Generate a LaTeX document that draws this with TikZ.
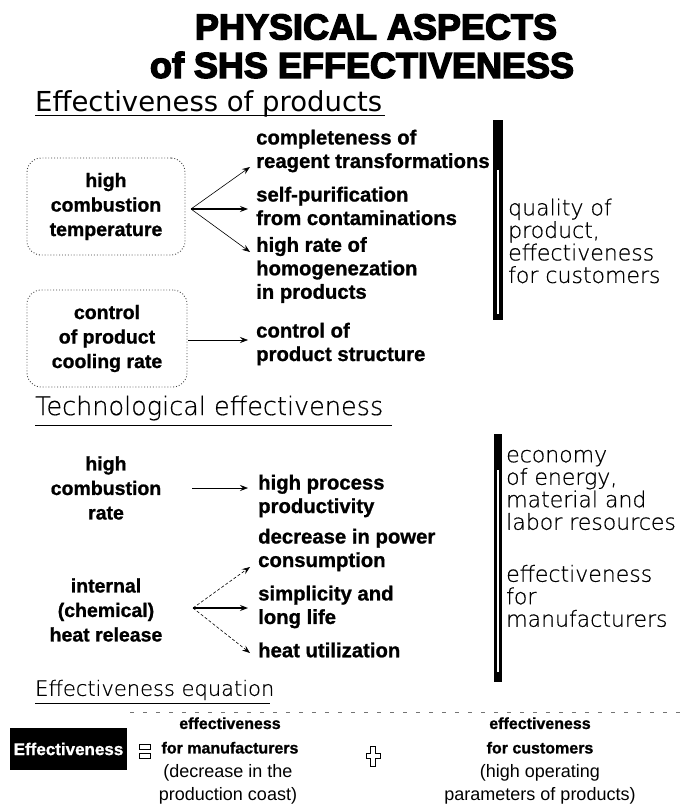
\documentclass[tikz,border=0pt]{standalone}
\usepackage{fontspec}
\usetikzlibrary{arrows.meta}
\setmainfont{Liberation Sans}[BoldFeatures={FakeBold=1}]
\newfontfamily\titlefont[BoldFeatures={FakeBold=4}]{Liberation Sans}
\newfontfamily\headfont{DejaVu Sans}
\IfFontExistsTF{DejaVu Sans ExtraLight}
  {\newfontfamily\thinfont[FakeBold=0.6]{DejaVu Sans ExtraLight}}
  {\newfontfamily\thinfont{DejaVu Sans}}

\begin{document}
\begin{tikzpicture}[x=1pt,y=-1pt,
  titletext/.style={font=\titlefont\bfseries\fontsize{36}{40}\selectfont, inner sep=0pt},
  headtext/.style={font=\headfont\fontsize{27.5}{30}\selectfont, inner sep=0pt, anchor=west},
  thinhead/.style={font=\thinfont\fontsize{#1}{#1}\selectfont, inner sep=0pt, anchor=west},
  bodyb/.style={font=\bfseries\fontsize{20.3}{23.5}\selectfont, inner sep=0pt, align=left, anchor=west},
  leftb/.style={font=\bfseries\fontsize{19.5}{24.5}\selectfont, inner sep=0pt, align=center},
  thintext/.style={font=\thinfont\fontsize{22}{22.5}\selectfont, inner sep=0pt, align=left, anchor=west},
  eqb/.style={font=\bfseries\fontsize{16}{24.5}\selectfont, inner sep=0pt, align=center},
  eqr/.style={font=\fontsize{18}{23}\selectfont, inner sep=0pt, align=center},
  dotbox/.style={draw=black!75, dotted, line width=0.9pt, rounded corners=14pt},
  arr/.style={-{Stealth[length=8pt,width=6pt,inset=3pt]}, line width=0.6pt},
  arrthick/.style={-{Stealth[length=8pt,width=6pt,inset=3pt]}, line width=1.1pt},
  arrdot/.style={-{Stealth[length=8pt,width=6pt,inset=3pt]}, line width=0.6pt, densely dashed},
  uline/.style={line width=1pt},
  bar/.style={fill=black},
  barslit/.style={draw=white, line width=1.6pt}
]
\useasboundingbox (0,0) rectangle (684,805);

% title
\node[titletext] (title1) at (376,27) {PHYSICAL ASPECTS};
\node[titletext] (title2) at (362,65) {of SHS EFFECTIVENESS};

% ---- Effectiveness of products
\node[headtext] (hprod) at (35,104) {Effectiveness of products};
\draw[uline] (35,116) -- (385,116);

\node[dotbox, leftb, minimum width=158pt, minimum height=97pt] (box1) at (106,206.5)
  {high\\combustion\\temperature};
\node[dotbox, leftb, minimum width=160pt, minimum height=97pt] (box2) at (107,338.5)
  {control\\of product\\cooling rate};

\node[bodyb] (a1) at (256,151) {completeness of\\reagent transformations};
\node[bodyb] (a2) at (256,206) {self-purification\\from contaminations};
\node[bodyb] (a3) at (256,270) {high rate of\\homogenezation\\in products};
\node[bodyb] (a4) at (256,344) {control of\\product structure};

\coordinate (s1) at (191,209);
\coordinate (t1) at (250,167);
\coordinate (t2) at (248,209);
\coordinate (t3) at (250,252);
\draw[arr] (s1) -- (t1);
\draw[arrthick] (s1) -- (t2);
\draw[arr] (s1) -- (t3);
\coordinate (s2) at (188,340);
\coordinate (t4) at (248,340);
\draw[arr] (s2) -- (t4);

\fill[bar] (493,120) rectangle (503,320);
\draw[barslit] (498,170) -- (498,314);
\node[thintext] (q1) at (508,241) {quality of\\product,\\effectiveness\\for customers};

% ---- Technological effectiveness
\node[thinhead=25.5] (htech) at (35,408) {Technological effectiveness};
\draw[line width=0.8pt] (35,425) -- (392,425);

\node[leftb] (c1) at (106,488) {high\\combustion\\rate};
\node[bodyb] (b1) at (258,496) {high process\\productivity};
\coordinate (s3) at (192,488);
\coordinate (t5) at (248,488);
\draw[arr] (s3) -- (t5);

\node[leftb] (c2) at (106,610) {internal\\(chemical)\\heat release};
\node[bodyb] (b2) at (258,550) {decrease in power\\consumption};
\node[bodyb] (b3) at (258,607) {simplicity and\\long life};
\node[bodyb] (b4) at (258,650) {heat utilization};
\coordinate (s4) at (193,608);
\coordinate (t6) at (250,567);
\coordinate (t7) at (248,608);
\coordinate (t8) at (250,653);
\draw[arrdot] (s4) -- (t6);
\draw[arrthick] (s4) -- (t7);
\draw[arrdot] (s4) -- (t8);

\fill[bar] (494,434) rectangle (502,682);
\draw[barslit] (498,470) -- (498,672);
\node[thintext] (e1) at (506,490) {economy\\of energy,\\material and\\labor resources};
\node[thintext] (e2) at (506,596) {effectiveness\\for\\manufacturers};

% ---- Effectiveness equation
\node[thinhead=21] (heq) at (35,690) {Effectiveness equation};
\draw[line width=0.8pt] (35,703) -- (270,703);
\draw[black!55, line width=0.5pt, dash pattern=on 4pt off 9pt] (130,712) -- (684,712);

\node[fill=black, text=white, font=\bfseries\fontsize{17}{17}\selectfont,
      minimum width=117pt, minimum height=42pt, inner sep=0pt] (eff) at (68.5,749) {Effectiveness};

% equals sign
\draw[line width=0.8pt, fill=white] (139,744) rectangle (150,749);
\draw[line width=0.8pt, fill=white] (139,753) rectangle (150,758);

\node[eqb] (m1) at (230,735.5) {effectiveness\\for manufacturers};
\node[eqr] (m2) at (228,784.5) {(decrease in the\\production coast)};

% plus sign
\draw[line width=0.8pt, fill=white] (370.5,746) -- (375.5,746) -- (375.5,753.5) -- (380,753.5)
  -- (380,758.5) -- (375.5,758.5) -- (375.5,766) -- (370.5,766) -- (370.5,758.5)
  -- (366,758.5) -- (366,753.5) -- (370.5,753.5) -- cycle;

\node[eqb] (k1) at (540,735.5) {effectiveness\\for customers};
\node[eqr] (k2) at (540,784.5) {(high operating\\parameters of products)};
\end{tikzpicture}
\end{document}
